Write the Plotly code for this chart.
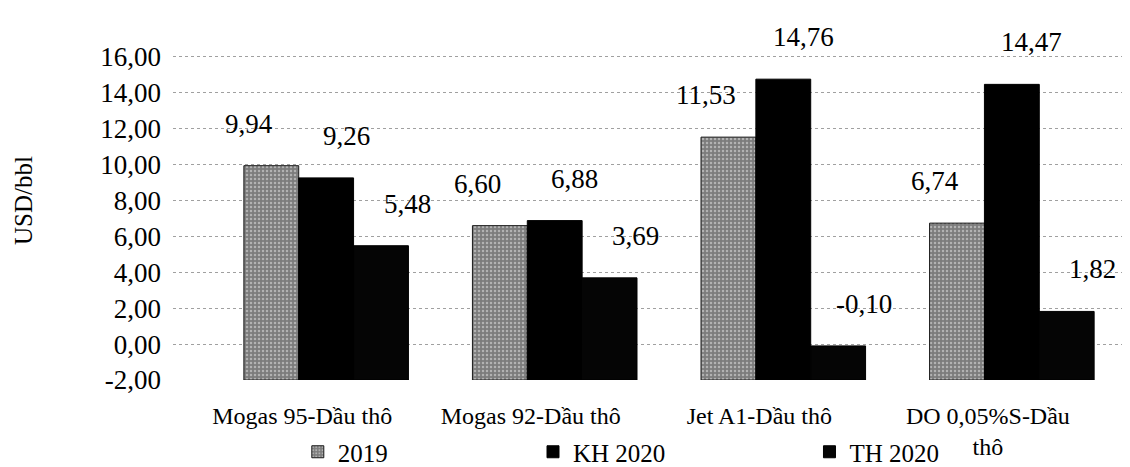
import plotly.graph_objects as go

# ---- data ----
categories = ["Mogas 95-Dầu thô", "Mogas 92-Dầu thô", "Jet A1-Dầu thô", "DO 0,05%S-Dầu<br>thô"]
series_names = ["2019", "KH 2020", "TH 2020"]
values_2019 = [9.94, 6.60, 11.53, 6.74]
values_kh2020 = [9.26, 6.88, 14.76, 14.47]
values_th2020 = [5.48, 3.69, -0.10, 1.82]
y_tick_values = [-2, 0, 2, 4, 6, 8, 10, 12, 14, 16]
y_axis_title = "USD/bbl"

FLOOR = -2
TOP = 18
FONT = "Liberation Serif"


def fmt(v):
    return f"{v:.2f}".replace(".", ",")


all_series = [values_2019, values_kh2020, values_th2020]
styles = [
    dict(color="#8c8c8c",
         pattern=dict(shape=".", fgcolor="#e8e8e8", bgcolor="#7c7c7c", size=4, solidity=0.3),
         line=dict(color="#1a1a1a", width=1)),
    dict(color="#000000", line=dict(color="#000000", width=1)),
    dict(color="#050505", line=dict(color="#000000", width=1)),
]
legend_refs = ["legend", "legend2", "legend3"]
legend_x = [0.13, 0.375, 0.663]

fig = go.Figure()
for name, vals, mk, lg in zip(series_names, all_series, styles, legend_refs):
    fig.add_trace(go.Bar(
        name=name,
        x=categories,
        y=[v - FLOOR for v in vals],
        base=FLOOR,
        customdata=vals,
        hovertemplate="%{x}<br>" + name + ": %{customdata:.2f}<extra></extra>",
        marker=mk,
        legend=lg,
    ))

bargap = 0.28
bar_w = (1 - bargap) / len(series_names)
label_xshift = [-22, 20, 26]
for i, vals in enumerate(all_series):
    for j, v in enumerate(vals):
        fig.add_annotation(
            x=j + (i - 1) * bar_w, y=v, xref="x", yref="y",
            text=fmt(v), showarrow=False, xshift=label_xshift[i], yshift=42,
            font=dict(family=FONT, size=27, color="#000000"),
        )

grid_vals = y_tick_values + [TOP]
grid_text = [fmt(v) for v in y_tick_values] + [""]

legend_common = dict(orientation="h", xanchor="left", yref="container", y=0.0, yanchor="bottom",
                     bgcolor="rgba(0,0,0,0)", font=dict(family=FONT, size=25), itemwidth=30)

fig.update_layout(
    width=1130, height=467,
    margin=dict(l=165, r=5, t=13, b=95, autoexpand=False),
    paper_bgcolor="white", plot_bgcolor="white",
    barmode="group", bargap=bargap, bargroupgap=0,
    font=dict(family=FONT, size=24, color="#000000"),
    showlegend=True,
    legend=dict(x=legend_x[0], **legend_common),
    legend2=dict(x=legend_x[1], **legend_common),
    legend3=dict(x=legend_x[2], **legend_common),
    xaxis=dict(range=[-0.67, 3.53], showgrid=False, zeroline=False, showline=False,
               ticks="", tickfont=dict(family=FONT, size=24), ticklabelshift=-24,
               ticklabelstandoff=19, fixedrange=True),
    yaxis=dict(range=[FLOOR, TOP], tickvals=grid_vals, ticktext=grid_text,
               showgrid=True, gridcolor="#a0a0a0", griddash="dot", gridwidth=1,
               zeroline=False, showline=False, ticks="",
               tickfont=dict(family=FONT, size=27), ticklabelstandoff=11,
               title=dict(text=y_axis_title, font=dict(family=FONT, size=25), standoff=60),
               automargin=False, fixedrange=True),
)

fig.write_html("out.html")
